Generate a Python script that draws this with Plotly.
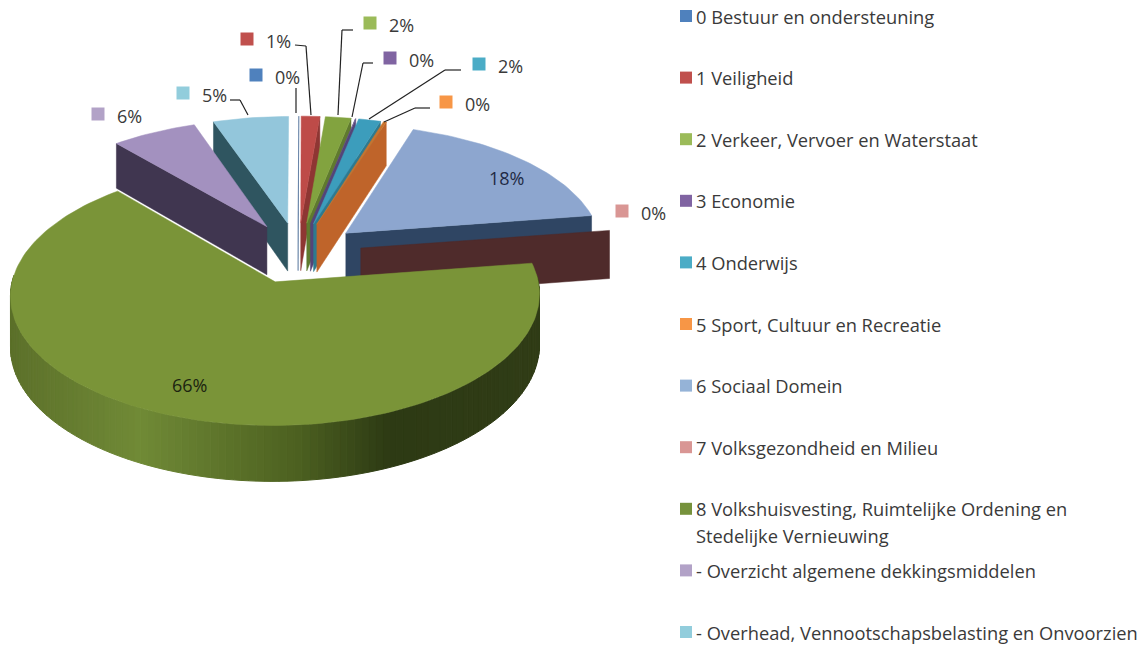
import math
import plotly.graph_objects as go

# ---- data ----
categories = [
    "0 Bestuur en ondersteuning", "1 Veiligheid", "2 Verkeer, Vervoer en Waterstaat",
    "3 Economie", "4 Onderwijs", "5 Sport, Cultuur en Recreatie", "6 Sociaal Domein",
    "7 Volksgezondheid en Milieu", "8 Volkshuisvesting, Ruimtelijke Ordening en",
    "- Overzicht algemene dekkingsmiddelen", "- Overhead, Vennootschapsbelasting en Onvoorzien",
]
category_line2 = {8: "Stedelijke Vernieuwing"}
values = [0.05, 1.3, 1.8, 0.1, 1.55, 0.2, 17.6, 0.05, 66.05, 6.0, 5.3]
legend_colors = ["#4F81BD", "#C0504D", "#9BBB59", "#8064A2", "#4BACC6", "#F79646",
                 "#95B3D7", "#D99694", "#76923C", "#B2A2C7", "#92CDDC"]
face_colors = ["#4F81BD", "#BE4B48", "#82A33F", "#6B5490", "#3C9DBC", "#C8742E",
               "#8DA6CF", "#D99694", "#7A9438", "#A391BF", "#93C6DB"]
wall_colors = ["#3A5F8C", "#8E3633", "#5F7A2E", "#544478", "#2E7A8F", "#BF642A",
               "#2F4563", "#4F2B2B", "#5D7330", "#403650", "#2F5560"]
draw_order = [10, 9, 0, 1, 2, 3, 4, 5, 6, 7, 8]

# ---- projection settings ----
CX, CY = 298.0, 252.6      # screen position of the unexploded pie's centre
RX, RY = 257.0, 123.0      # scale of the pie's radius
PERSP = 0.10               # perspective strength
DEPTH = 49.0               # pie thickness
PULL = 0.248               # explosion


def project(u, v, z=0.0):
    w = 1 + PERSP * v
    return CX + RX * u / w, CY - RY * v / w + DEPTH * z / w


def poly(points, color, width=0):
    xs = [p[0] for p in points] + [points[0][0]]
    ys = [p[1] for p in points] + [points[0][1]]
    return go.Scatter(x=xs, y=ys, mode="lines", fill="toself", fillcolor=color,
                      line=dict(color=color, width=width), hoverinfo="skip", showlegend=False)


def rim_color(x):
    stops = [(0.0, (92, 112, 42)), (0.25, (112, 138, 54)), (0.55, (76, 96, 32)),
             (0.72, (45, 58, 20)), (1.0, (48, 60, 22))]
    t = max(0.0, min(1.0, (x - 10) / 530))
    for (t0, c0), (t1, c1) in zip(stops, stops[1:]):
        if t <= t1:
            f = (t - t0) / (t1 - t0)
            return "rgb(%d,%d,%d)" % tuple(round(a + (b - a) * f) for a, b in zip(c0, c1))
    return "rgb(48,60,22)"


fig = go.Figure()
total = sum(values)
spans, acc = [], 0.0
for val in values:
    spans.append((acc / total * 2 * math.pi, (acc + val) / total * 2 * math.pi))
    acc += val

for i in draw_order:
    a0, a1 = spans[i]
    mid = (a0 + a1) / 2
    ou, ov = PULL * math.sin(mid), PULL * math.cos(mid)
    n = max(2, int((a1 - a0) / math.radians(1.5)) + 1)
    arc = [(ou + math.sin(a0 + (a1 - a0) * k / n), ov + math.cos(a0 + (a1 - a0) * k / n))
           for k in range(n + 1)]

    # cut faces that look towards the viewer
    if math.sin(a1) > 0:
        e = arc[-1]
        fig.add_trace(poly([project(ou, ov), project(*e), project(*e, 1), project(ou, ov, 1)],
                           wall_colors[i], 0.5))
    if math.sin(a0) < 0:
        e = arc[0]
        fig.add_trace(poly([project(ou, ov), project(*e), project(*e, 1), project(ou, ov, 1)],
                           wall_colors[i], 0.5))

    # outer rim, front half only
    for k in range(n):
        p, q = arc[k], arc[k + 1]
        am = a0 + (a1 - a0) * (k + 0.5) / n
        if math.cos(am) < 0.05:
            x_mid = project(*p)[0]
            col = rim_color(x_mid)
            fig.add_trace(poly([project(*p), project(*q), project(*q, 1), project(*p, 1)], col, 1))

    # top face; hairline slices get no outline
    outline = 0.5 if values[i] > 0.15 else 0
    fig.add_trace(poly([project(ou, ov)] + [project(*pt) for pt in arc], face_colors[i], outline))

# ---- annotation layout ----
TEXT = "#3A3A3A"
FONT = "Open Sans"
shapes, annotations = [], []


def label(x, y, text, size=18.3, anchor="left", color=TEXT):
    annotations.append(dict(x=x, y=y, xref="x", yref="y", text=text, showarrow=False,
                            xanchor=anchor, yanchor="middle", align="left", xshift=-2,
                            font=dict(family=FONT, size=size, color=color)))


def swatch(x, y, color, half=5):
    shapes.append(dict(type="rect", xref="x", yref="y", x0=x - half, x1=x + half, y0=y - half,
                       y1=y + half, fillcolor=color, line=dict(width=0)))


# legend
LEG_Y0, LEG_STEP = 16.0, 61.6
for i, name in enumerate(categories):
    y = LEG_Y0 + i * LEG_STEP
    swatch(686, y, legend_colors[i], 6)
    label(696, y, name)
    if i in category_line2:
        label(696, y + 27, category_line2[i])

# data labels: key position, text position, leader polyline
pct = [f"{round(v)}%" for v in values]
key_at = {0: (256, 75), 1: (247, 39), 2: (370, 23), 3: (390, 58), 4: (479, 64), 5: (446, 102),
          7: (622, 211), 9: (98, 114), 10: (183, 93)}
leaders = {
    0: [(296, 88), (296, 113)],
    1: [(295, 45), (306, 46), (311, 115)],
    2: [(353, 30), (342, 30), (338, 115)],
    3: [(373, 63), (363, 63), (352, 117)],
    4: [(461, 70), (445, 70), (369, 119)],
    5: [(430, 108), (415, 108), (384, 122)],
    10: [(230, 100), (240, 100), (248, 115)],
}
for i, (kx, ky) in key_at.items():
    swatch(kx, ky, legend_colors[i], 6.5)
    label(kx + 19, ky + 2, pct[i], 18)
for i, pts in leaders.items():
    for p, q in zip(pts, pts[1:]):
        shapes.append(dict(type="line", xref="x", yref="y", x0=p[0], y0=p[1], x1=q[0], y1=q[1],
                           line=dict(color="#222222", width=1.2)))
label(508, 178, pct[6], 18, "center", "#1F2A44")
label(191, 385, pct[8], 18, "center", "#1C2410")

fig.update_layout(
    width=1148, height=648, margin=dict(l=0, r=0, t=0, b=0),
    paper_bgcolor="white", plot_bgcolor="white", showlegend=False,
    xaxis=dict(range=[0, 1148], visible=False, fixedrange=True),
    yaxis=dict(range=[648, 0], visible=False, fixedrange=True),
    shapes=shapes, annotations=annotations,
)
fig.write_html("out.html", config={"displayModeBar": False},
               post_script="document.body.style.margin='0';document.body.style.overflow='hidden';")
